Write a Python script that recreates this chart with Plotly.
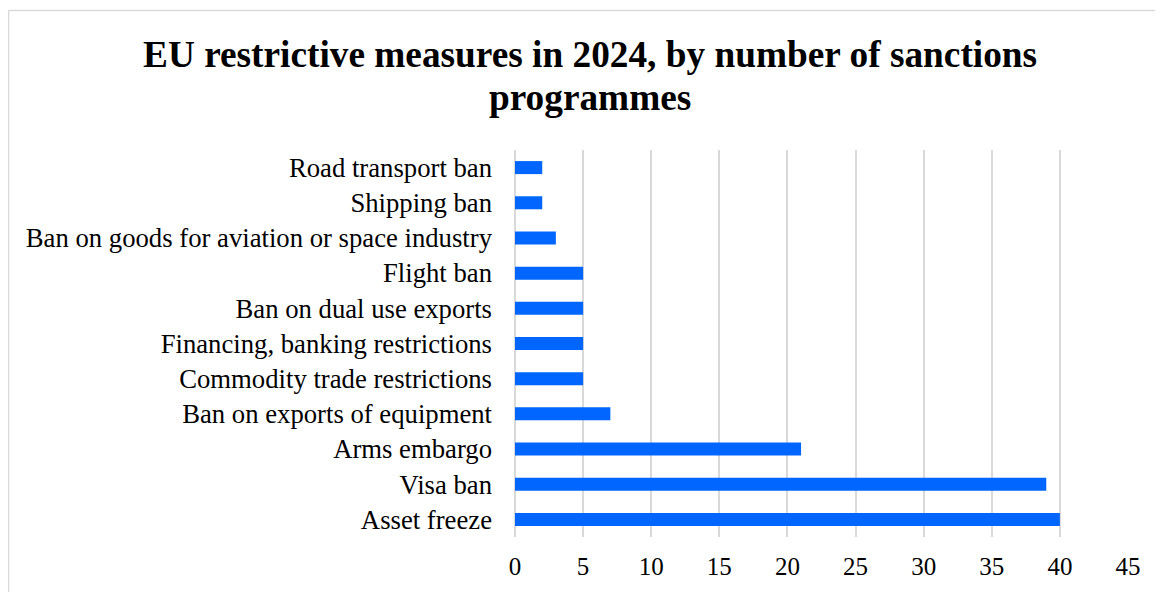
import plotly.graph_objects as go

categories = ["Asset freeze", "Visa ban", "Arms embargo", "Ban on exports of equipment",
              "Commodity trade restrictions", "Financing, banking restrictions",
              "Ban on dual use exports", "Flight ban",
              "Ban on goods for aviation or space industry", "Shipping ban", "Road transport ban"]
values = [40, 39, 21, 7, 5, 5, 5, 5, 3, 2, 2]
x_ticks = [0, 5, 10, 15, 20, 25, 30, 35, 40, 45]
title_lines = ["EU restrictive measures in 2024, by number of sanctions", "programmes"]

# page body has an 8px margin; figure coordinates are screen - 8
OFF = 8
W, H = 1163 - OFF, 592 - OFF
L, R, T, B = 515 - OFF, 35, 150 - OFF, 55
pw, ph = W - L - R, H - T - B

def px_x(s):
    return (s - OFF - L) / pw

def px_y(s):
    return (H - B - (s - OFF)) / ph

font = "Liberation Serif, Times New Roman, serif"

fig = go.Figure(go.Bar(
    x=values, y=categories, orientation="h",
    marker=dict(color="#0066FF", line=dict(width=0)),
    width=0.37,
))

annotations = []
for line, sy in zip(title_lines, [54, 97]):
    annotations.append(dict(
        text=f"<b>{line}</b>", xref="paper", yref="paper",
        x=px_x(590), y=px_y(sy), xanchor="center", yanchor="middle",
        showarrow=False, font=dict(family=font, size=37.3, color="#000000"),
    ))

fig.update_layout(
    width=W, height=H,
    margin=dict(l=L, r=R, t=T, b=B, autoexpand=False),
    paper_bgcolor="white", plot_bgcolor="white",
    showlegend=False,
    font=dict(family=font, color="#000000", size=26),
    xaxis=dict(
        range=[0, 45], tickvals=x_ticks, showgrid=True, gridcolor="#D9D9D9", gridwidth=1.5,
        zeroline=True, zerolinecolor="#D9D9D9", zerolinewidth=1.5,
        showline=False, ticks="", ticklabelstandoff=12,
        tickfont=dict(family=font, size=25, color="#000000"),
        fixedrange=True,
    ),
    yaxis=dict(
        categoryorder="array", categoryarray=categories,
        showgrid=False, showline=False, ticks="", ticklabelstandoff=22,
        tickfont=dict(family=font, size=26.7, color="#000000"),
        fixedrange=True,
    ),
    annotations=annotations,
    shapes=[dict(
        type="rect", xref="paper", yref="paper",
        x0=px_x(8.5), x1=px_x(1180), y0=px_y(610), y1=px_y(10.5),
        line=dict(color="#D9D9D9", width=1.5), fillcolor="rgba(0,0,0,0)", layer="below",
    )],
)

fig.write_html("out.html")
